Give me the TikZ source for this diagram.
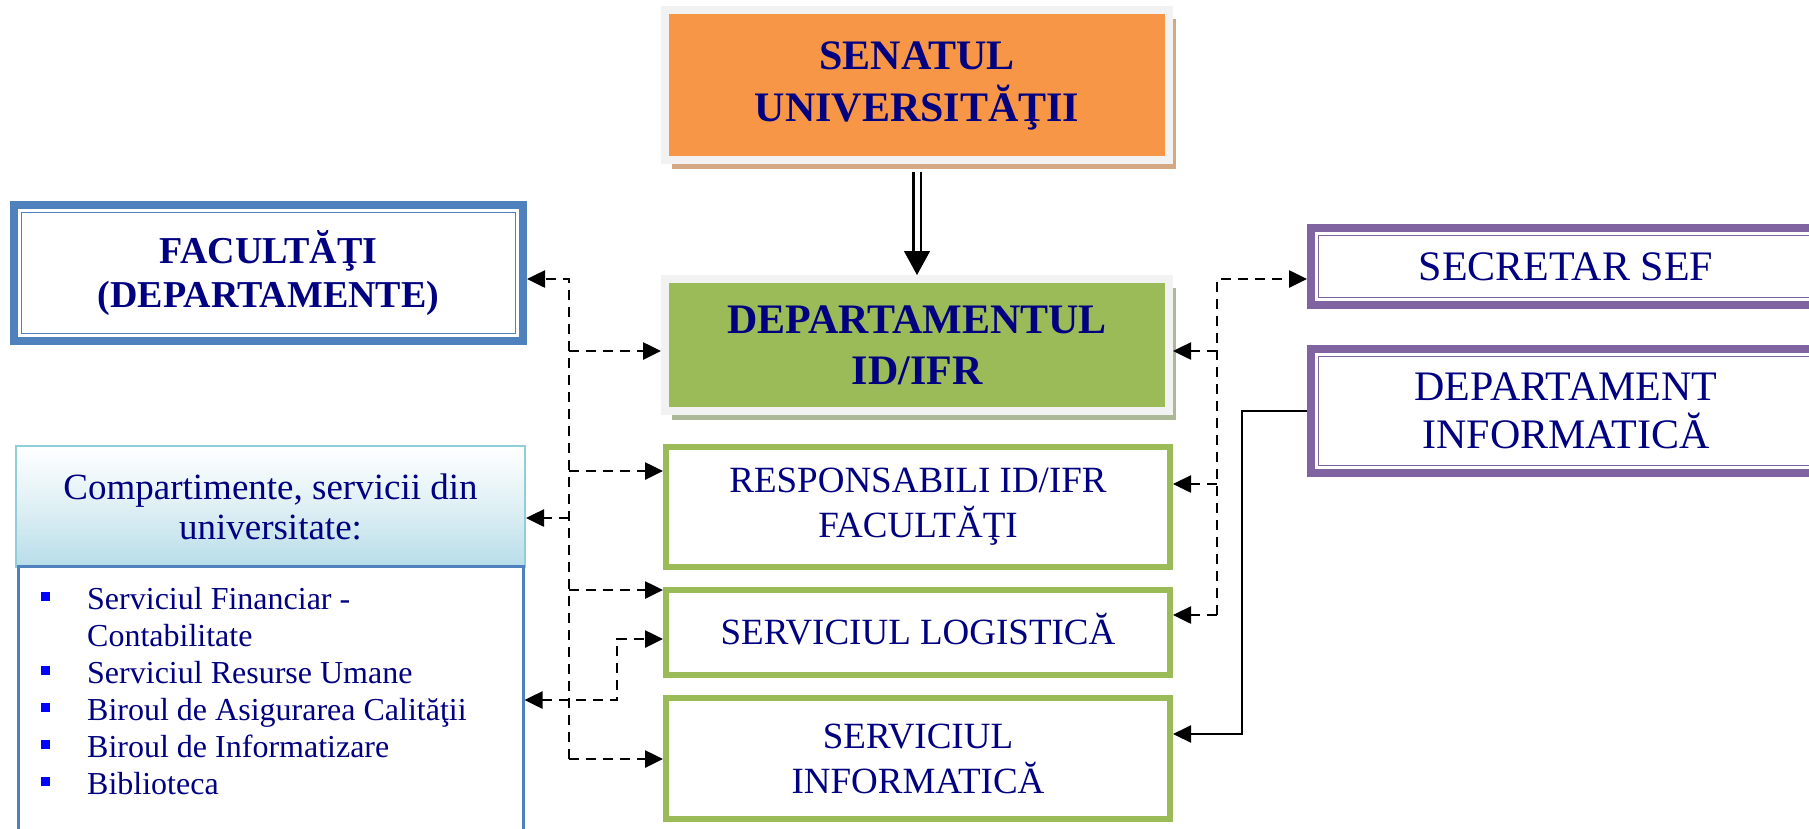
\documentclass[tikz,border=0pt]{standalone}
\usepackage{fontspec}
\setmainfont{Liberation Serif}
\usepackage{xcolor}
\usetikzlibrary{arrows.meta, positioning, shadows}
\definecolor{cNavy}{RGB}{0,0,128}
\definecolor{cOrange}{RGB}{247,150,70}
\definecolor{cGreen}{RGB}{155,187,89}
\definecolor{cBlue}{RGB}{79,129,189}
\definecolor{cPurple}{RGB}{128,100,162}
\definecolor{cFrame}{RGB}{242,242,242}
\definecolor{cTan}{RGB}{212,168,130}
\definecolor{cSage}{RGB}{172,184,152}
\definecolor{cAqua}{RGB}{146,205,220}
\definecolor{cAquaFill}{RGB}{183,221,232}
\definecolor{cBullet}{RGB}{0,0,255}
\newcommand{\sqbullet}{\textcolor{cBullet}{\rule[8pt]{9pt}{9pt}}\hspace*{37pt}}
\newcommand{\nobullet}{\hspace*{46pt}}
\tikzset{
    headbox/.style ={rectangle, draw=cFrame, line width=8pt, minimum width=504pt, inner sep=0pt, text=cNavy, align=center, font=\fontsize{42}{51}\selectfont\bfseries},
    unitbox/.style ={rectangle, draw=cGreen, line width=6pt, fill=white, minimum width=504pt, inner sep=0pt, text=cNavy, align=center, font=\fontsize{37}{45}\selectfont},
    dblbox/.style  ={rectangle, draw=#1, line width=8pt, fill=white, inner sep=0pt, text=cNavy, align=center,
                     path picture={\draw[#1, line width=1.5pt] ([shift={(7.5pt,-7.5pt)}]path picture bounding box.north west) rectangle ([shift={(-7.5pt,7.5pt)}]path picture bounding box.south east);}},
    itemtext/.style={inner sep=0pt, text=cNavy, font=\fontsize{32}{37}\selectfont},
    dashline/.style={line width=2.6pt, dash pattern=on 10pt off 7pt},
    dasharrow/.style={dashline, -{Triangle[length=18pt, width=17pt]}},
    solidarrow/.style={line width=2.2pt, -{Triangle[length=18pt, width=17pt]}},
}
\begin{document}
\begin{tikzpicture}[x=1pt, y=-1pt]
    \useasboundingbox (0,0) rectangle (1809,828);
    \clip (0,0) rectangle (1809,828);
    % central column
    \node[headbox, fill=cOrange, minimum height=150pt, drop shadow={shadow xshift=7pt, shadow yshift=-9pt, fill=cTan, opacity=1}] (senat) at (917,85)
        {\raisebox{9pt}{\begin{tabular}{@{}c@{}}SENATUL\\UNIVERSITĂŢII\end{tabular}}};
    \node[headbox, fill=cGreen, minimum height=132pt, drop shadow={shadow xshift=7pt, shadow yshift=-9pt, fill=cSage, opacity=1}] (dept) at (917,345)
        {DEPARTAMENTUL\\ID/IFR};
    \node[unitbox, minimum height=120pt] (resp) at (918,507) {RESPONSABILI ID/IFR\\FACULTĂŢI};
    \node[unitbox, minimum height=85pt] (logi) at (918,632.5) {\raisebox{7pt}{SERVICIUL LOGISTICĂ}};
    \node[unitbox, minimum height=121pt] (info) at (918,758.5) {SERVICIUL\\INFORMATICĂ};
    % left side
    \node[dblbox=cBlue, minimum width=509pt, minimum height=136pt, font=\fontsize{38}{44}\selectfont\bfseries] (fac) at (268.5,273)
        {FACULTĂŢI\\(DEPARTAMENTE)};
    \node[draw=cAqua, line width=2pt, top color=white, bottom color=cAquaFill, middle color=cAquaFill!45, minimum width=509pt, minimum height=121pt,
          inner sep=0pt, text=cNavy, align=center, font=\fontsize{37}{40}\selectfont] (chead) at (270.5,506.5)
        {Compartimente, servicii din\\universitate:};
    \node[draw=cBlue, line width=3pt, fill=white, minimum width=505pt, minimum height=300pt, below=-3pt of chead] (clist) {};
    \foreach \yy/\txt [count=\i] in {609/{\sqbullet Serviciul Financiar -}, 646/{\nobullet Contabilitate},
            683/{\sqbullet Serviciul Resurse Umane}, 720/{\sqbullet Biroul de Asigurarea Calităţii},
            757/{\sqbullet Biroul de Informatizare}, 794/{\sqbullet Biblioteca}}
        \node[itemtext, anchor=base west] (item\i) at (41,\yy) {\txt};
    % right side
    \node[dblbox=cPurple, minimum width=510pt, minimum height=77pt, font=\fontsize{42}{48}\selectfont] (sec) at (1566,266.5) {SECRETAR SEF};
    \node[dblbox=cPurple, minimum width=510pt, minimum height=124pt, font=\fontsize{42}{48}\selectfont] (dinfo) at (1566,411) {DEPARTAMENT\\INFORMATICĂ};

    % senat -> departament
    \draw[line width=2.5pt, double distance=5pt, shorten <=8pt, shorten >=20pt] (senat.south) -- (dept.north);
    \draw[-{Triangle[length=24pt, width=26pt]}, line width=1pt, shorten <=88pt] (senat.south) -- (dept.north);

    % left dashed bus
    \coordinate (lt) at (569,279);
    \coordinate (lb) at (569,759);
    \coordinate (lD) at (569,351);
    \coordinate (lR) at (569,471);
    \coordinate (lC) at (569,518);
    \coordinate (lL) at (569,590);
    \draw[dasharrow] (lb) -- (lt) -- (lt -| fac.east);
    \draw[dasharrow] (lb) -- (lb -| info.west);
    \draw[dasharrow] (lD) -- (lD -| dept.west);
    \draw[dasharrow] (lR) -- (lR -| resp.west);
    \draw[dasharrow] (lC) -- (lC -| chead.east);
    \draw[dasharrow] (lL) -- (lL -| logi.west);
    \coordinate (dA) at (617,700);
    \coordinate (dB) at (617,639);
    \draw[dashline, {Triangle[length=18pt, width=17pt]}-{Triangle[length=18pt, width=17pt]}] (dA -| clist.east) -- (dA) -- (dB) -- (dB -| logi.west);

    % right dashed bus
    \coordinate (rt) at (1217,279);
    \coordinate (rb) at (1217,615);
    \coordinate (rD) at (1217,351);
    \coordinate (rR) at (1217,484);
    \draw[dasharrow] (rb) -- (rt) -- (rt -| sec.west);
    \draw[dasharrow] (rb) -- (rb -| logi.east);
    \draw[dasharrow] (rD) -- (rD -| dept.east);
    \draw[dasharrow] (rR) -- (rR -| resp.east);

    % departament informatica -> serviciul informatica
    \coordinate (sb) at (1242,734);
    \draw[solidarrow] (dinfo.west) -| (sb) -- (sb -| info.east);
\end{tikzpicture}
\end{document}
